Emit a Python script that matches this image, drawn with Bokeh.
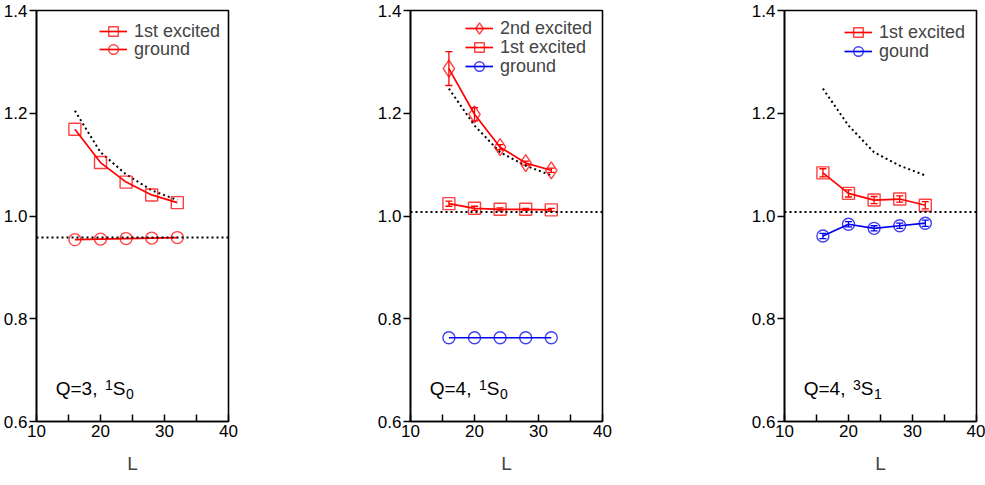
from bokeh.plotting import figure
from bokeh.layouts import row
from bokeh.models import (ColumnDataSource, Whisker, TeeHead, Span, Legend, LegendItem,
                          Label, FixedTicker)
from bokeh.embed import file_html
from bokeh.resources import INLINE

# ---------------- data ----------------
L = [16, 20, 24, 28, 32]

# panel 1: Q=3, 1S0
p1_exc1 = [1.169, 1.104, 1.066, 1.041, 1.026]
p1_ground = [0.954, 0.955, 0.956, 0.957, 0.958]
p1_curve = [1.205, 1.124, 1.081, 1.050, 1.031]
p1_thr = 0.958

# panel 2: Q=4, 1S0
p2_exc2 = [1.287, 1.198, 1.134, 1.103, 1.089]
p2_exc2_err = [0.033, 0.013, 0.005, 0.004, 0.004]
p2_exc1 = [1.024, 1.015, 1.013, 1.013, 1.012]
p2_exc1_err = [0.005, 0.004, 0.003, 0.002, 0.003]
p2_ground = [0.763, 0.763, 0.763, 0.763, 0.763]
p2_curve = [1.248, 1.176, 1.124, 1.098, 1.079]
p2_thr = 1.008

# panel 3: Q=4, 3S1
p3_exc1 = [1.084, 1.044, 1.031, 1.033, 1.021]
p3_exc1_err = [0.008, 0.007, 0.007, 0.006, 0.007]
p3_ground = [0.961, 0.984, 0.976, 0.981, 0.986]
p3_ground_err = [0.005, 0.005, 0.005, 0.005, 0.006]
p3_curve = [1.248, 1.176, 1.124, 1.098, 1.079]
p3_thr = 1.008

x_ticks = [10, 20, 30, 40]
x_minor = [15, 25, 35]
y_ticks = [0.6, 0.8, 1.0, 1.2, 1.4]
y_tick_labels = ["0.6", "0.8", "1.0", "1.2", "1.4"]

q_texts = ["Q=3,", "Q=4,", "Q=4,"]
sup_texts = ["1", "1", "3"]
sub_texts = ["0", "0", "1"]

FONT = "Liberation Sans"
RED = "#ff0000"
BLUE = "#0000ee"
FRAME_H = 411
GLYPH_H = 24


def make_fig(right_border):
    p = figure(frame_width=192, frame_height=FRAME_H, x_range=(10, 40), y_range=(0.6, 1.4),
               output_backend="svg", toolbar_location=None,
               min_border_left=35, min_border_right=right_border,
               min_border_top=10, min_border_bottom=55)
    p.grid.visible = False
    p.outline_line_color = "black"
    p.outline_line_width = 1.6
    p.outline_line_alpha = 1.0
    p.background_fill_color = "white"
    p.border_fill_color = "white"

    xa = p.xaxis[0]
    xa.ticker = FixedTicker(ticks=x_ticks, minor_ticks=x_minor)
    xa.major_tick_in = 7
    xa.major_tick_out = 0
    xa.minor_tick_in = 7
    xa.minor_tick_out = 0
    xa.major_tick_line_width = 1.5
    xa.minor_tick_line_width = 1.5
    xa.axis_line_width = 1.6
    xa.major_label_text_font = FONT
    xa.major_label_text_font_size = "17px"
    xa.major_label_text_color = "black"
    xa.major_label_standoff = 3
    xa.axis_label = "L"
    xa.axis_label_text_font = FONT
    xa.axis_label_text_font_size = "19px"
    xa.axis_label_text_font_style = "normal"
    xa.axis_label_standoff = 13

    ya = p.yaxis[0]
    ya.ticker = FixedTicker(ticks=y_ticks, minor_ticks=[])
    ya.major_label_overrides = {t: s for t, s in zip(y_ticks, y_tick_labels)}
    ya.major_tick_in = 0
    ya.major_tick_out = 7
    ya.minor_tick_in = 0
    ya.minor_tick_out = 0
    ya.major_tick_line_width = 1.5
    ya.axis_line_width = 1.6
    ya.major_label_text_font = FONT
    ya.major_label_text_font_size = "17px"
    ya.major_label_text_color = "black"
    ya.major_label_standoff = 2
    return p


def series(p, x, y, color, marker, err=None):
    src = ColumnDataSource(dict(x=x, y=y))
    lr = p.line("x", "y", source=src, line_color=color, line_width=1.7)
    if err is not None:
        src.data["upper"] = [a + b for a, b in zip(y, err)]
        src.data["lower"] = [a - b for a, b in zip(y, err)]
        w = Whisker(source=src, base="x", upper="upper", lower="lower",
                    line_color=color, line_width=1.3,
                    upper_head=TeeHead(size=7, line_color=color, line_width=1.3),
                    lower_head=TeeHead(size=7, line_color=color, line_width=1.3))
        p.add_layout(w)
    size = 17 if marker == "diamond" else 12
    sr = p.scatter("x", "y", source=src, marker=marker, size=size, fill_color=None,
                   line_color=color, line_alpha=0.75, line_width=1.4)
    return [lr, sr, marker]


def dotted(p, x, y, thr):
    p.line(x, y, line_color="black", line_width=2, line_dash="2 3")
    p.add_layout(Span(location=thr, dimension="width", line_color="black",
                      line_width=2, line_dash="2 3"))


def legend(p, items, x_off, row_offsets):
    # one legend box per entry so that the rows can sit closer than the glyph height
    for (lab, r), off in zip(items, row_offsets):
        gh = 28 if r[2] == "diamond" else GLYPH_H
        lg = Legend(items=[LegendItem(label=lab, renderers=r[:2])],
                    location=(x_off, FRAME_H - off - gh / 2),
                    border_line_color=None, background_fill_alpha=0,
                    margin=0, padding=0,
                    label_text_font=FONT, label_text_font_size="18px",
                    glyph_width=28, glyph_height=gh, label_standoff=7,
                    label_height=12, spacing=0)
        p.add_layout(lg)


def annot(p, i):
    y_main = 0.664
    p.add_layout(Label(x=13.0, y=y_main, text=q_texts[i], text_font=FONT,
                       text_font_size="19px", text_baseline="middle", text_color="black"))
    p.add_layout(Label(x=20.7, y=y_main + 0.008, text=sup_texts[i], text_font=FONT,
                       text_font_size="14px", text_baseline="middle", text_color="black"))
    p.add_layout(Label(x=21.9, y=y_main, text="S", text_font=FONT,
                       text_font_size="19px", text_baseline="middle", text_color="black"))
    p.add_layout(Label(x=24.0, y=y_main - 0.011, text=sub_texts[i], text_font=FONT,
                       text_font_size="14px", text_baseline="middle", text_color="black"))


# panel 1
p1 = make_fig(146)
dotted(p1, L, p1_curve, p1_thr)
r1a = series(p1, L, p1_exc1, RED, "square")
r1b = series(p1, L, p1_ground, RED, "circle")
legend(p1, [("1st excited", r1a), ("ground", r1b)], 63, [21, 39])
annot(p1, 0)

# panel 2
p2 = make_fig(146)
dotted(p2, L, p2_curve, p2_thr)
r2a = series(p2, L, p2_exc2, RED, "diamond", p2_exc2_err)
r2b = series(p2, L, p2_exc1, RED, "square", p2_exc1_err)
r2c = series(p2, L, p2_ground, BLUE, "circle")
legend(p2, [("2nd excited", r2a), ("1st excited", r2b), ("ground", r2c)], 55, [18, 37, 56])
annot(p2, 1)

# panel 3
p3 = make_fig(9)
dotted(p3, L, p3_curve, p3_thr)
r3a = series(p3, L, p3_exc1, RED, "square", p3_exc1_err)
r3b = series(p3, L, p3_ground, BLUE, "circle", p3_ground_err)
legend(p3, [("1st excited", r3a), ("gound", r3b)], 60, [22, 41])
annot(p3, 2)

layout = row(p1, p2, p3)
open("out.html", "w").write(file_html(layout, INLINE))
